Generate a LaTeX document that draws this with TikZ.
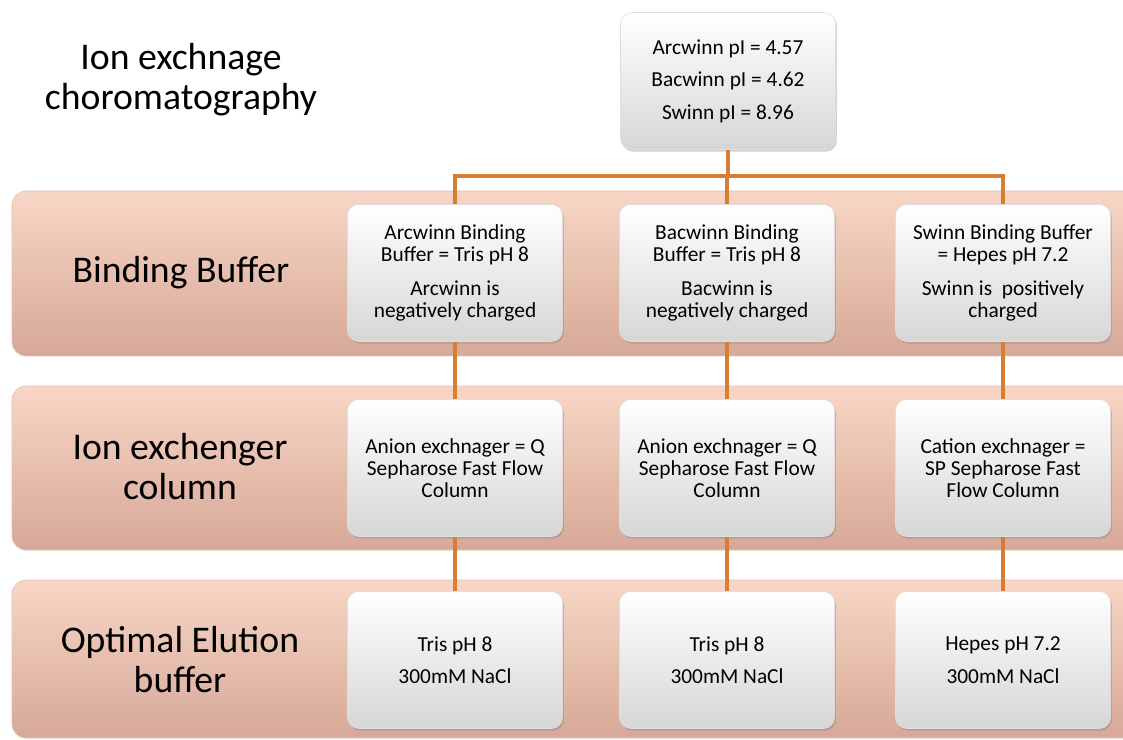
\documentclass[tikz,border=0pt]{standalone}
\usepackage{fontspec}
\setmainfont{Carlito}
\usetikzlibrary{shadows}

\definecolor{bandtop}{RGB}{248,214,197}
\definecolor{bandbot}{RGB}{214,168,153}
\definecolor{boxbot}{RGB}{214,214,214}
\definecolor{linkorange}{RGB}{216,125,50}

\begin{document}
\begin{tikzpicture}[x=0.025cm, y=0.025cm,
  band/.style={rounded corners=10pt, top color=bandtop, bottom color=bandbot, draw=bandbot!70!white, line width=0.4pt},
  box/.style={rounded corners=8pt, top color=white, bottom color=boxbot, draw=gray!25,
    minimum width=5.375cm, minimum height=3.425cm, align=center,
    font=\fontsize{15.2}{15.8}\selectfont,
    drop shadow={opacity=0.35, shadow xshift=1pt, shadow yshift=-1.5pt}},
  lab/.style={align=center, font=\fontsize{26.8}{28.5}\selectfont},
  link/.style={draw=linkorange, line width=3.2pt}]

  \fill[white] (0,0) rectangle (1123,-740);
  \useasboundingbox (0,0) rectangle (1123,-740);

  % the three shaded rows, running off the right edge
  \draw[band] (12,-191) rectangle (1140,-356);
  \draw[band] (12,-386) rectangle (1140,-550);
  \draw[band] (12,-580) rectangle (1140,-738);

  \node[lab] (title) at (181,-80) {Ion exchnage\\choromatography};
  \node[lab] (rowbind) at (181,-273) {Binding Buffer};
  \node[lab] (rowcol) at (180,-467) {Ion exchenger\\column};
  \node[lab] (rowelu) at (180,-660) {Optimal Elution\\buffer};

  \node[box] (pi) at (728,-81) {Arcwinn pI = 4.57\\[7.3pt]Bacwinn pI = 4.62\\[7.3pt]Swinn pI = 8.96};

  \node[box] (bind1) at (455,-273) {Arcwinn Binding\\Buffer = Tris pH 8\\[8.4pt]Arcwinn is\\negatively charged};
  \node[box] (bind2) at (727,-273) {Bacwinn Binding\\Buffer = Tris pH 8\\[8.4pt]Bacwinn is\\negatively charged};
  \node[box] (bind3) at (1003,-273) {Swinn Binding Buffer\\= Hepes pH 7.2\\[8.4pt]Swinn is\ \ positively\\charged};

  \node[box] (col1) at (455,-468) {Anion exchnager = Q\\Sepharose Fast Flow\\Column};
  \node[box] (col2) at (727,-468) {Anion exchnager = Q\\Sepharose Fast Flow\\Column};
  \node[box] (col3) at (1003,-468) {Cation exchnager =\\SP Sepharose Fast\\Flow Column};

  \node[box] (elu1) at (455,-660) {Tris pH 8\\[7.3pt]300mM NaCl};
  \node[box] (elu2) at (727,-660) {Tris pH 8\\[7.3pt]300mM NaCl};
  \node[box] (elu3) at (1003,-660) {Hepes pH 7.2\\[7.3pt]300mM NaCl};

  % connectors
  \coordinate (split) at (728,-176);
  \draw[link] (pi) -- (split);
  \draw[link] (split) -| (bind1.north);
  \draw[link] (split) -| (bind2.north);
  \draw[link] (split) -| (bind3.north);
  \foreach \i in {1,2,3} {
    \draw[link] (bind\i) -- (col\i);
    \draw[link] (col\i) -- (elu\i);
  }
\end{tikzpicture}
\end{document}
